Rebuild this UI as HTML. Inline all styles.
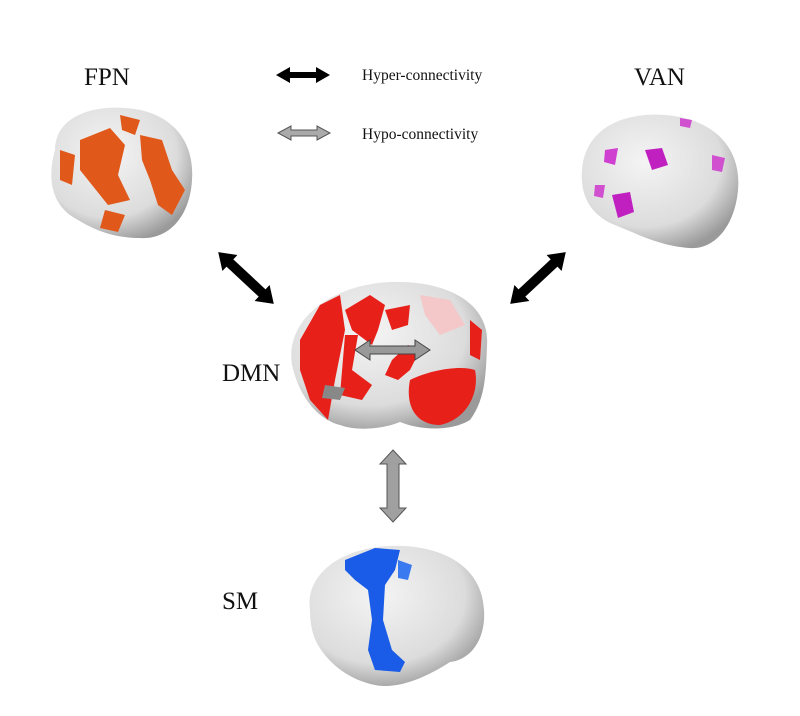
<!DOCTYPE html>
<html><head><style>
html,body{margin:0;padding:0;background:#fff;width:800px;height:716px;overflow:hidden}
</style></head><body>
<svg width="800" height="716" viewBox="0 0 800 716" xmlns="http://www.w3.org/2000/svg" font-family="Liberation Serif, serif">
<defs>
<radialGradient id="g" cx="40%" cy="35%" r="70%">
<stop offset="0" stop-color="#f4f4f4"/><stop offset="0.7" stop-color="#dcdcdc"/><stop offset="1" stop-color="#9a9a9a"/>
</radialGradient>
</defs>
<text x="84" y="85" font-size="25" fill="#111">FPN</text>
<text x="634" y="85" font-size="25" fill="#111">VAN</text>
<text x="222" y="381" font-size="25" fill="#111">DMN</text>
<text x="222" y="609" font-size="25" fill="#111">SM</text>
<text x="362" y="80" font-size="15.5" fill="#111">Hyper-connectivity</text>
<text x="362" y="139" font-size="15.5" fill="#111">Hypo-connectivity</text>

<polygon points="276,75 290,67 290,72 316,72 316,67 330,75 316,83 316,78 290,78 290,83" fill="#000"/>
<polygon points="278,133 291,126 291,130 317,130 317,126 330,133 317,140 317,136 291,136 291,140" fill="#aaa" stroke="#555" stroke-width="1"/>

<path d="M55,150 C55,118 90,105 125,108 C165,110 195,135 192,180 C190,215 170,240 140,238 C110,238 90,228 70,215 C50,200 48,175 55,150Z" fill="url(#g)"/>
<path d="M80,140 L110,128 L125,145 L118,175 L130,200 L108,205 L92,185 L80,170Z" fill="#e0581a"/>
<path d="M140,135 L162,140 L172,170 L185,190 L172,215 L158,205 L150,180 L142,160Z" fill="#e0581a"/>
<path d="M60,150 L75,155 L72,185 L60,180Z" fill="#e0581a"/>
<path d="M105,210 L125,215 L118,232 L100,228Z" fill="#e0581a"/>
<path d="M120,115 L140,120 L135,135 L122,130Z" fill="#e0581a"/>

<path d="M582,170 C585,130 620,112 665,115 C710,118 742,145 738,190 C735,225 715,250 690,248 C660,246 640,235 615,225 C590,215 580,195 582,170Z" fill="url(#g)"/>
<path d="M645,150 L662,148 L668,165 L652,170Z" fill="#c020c0"/>
<path d="M605,150 L618,148 L615,165 L604,162Z" fill="#d040d0"/>
<path d="M612,195 L630,192 L634,212 L618,218Z" fill="#c020c0"/>
<path d="M712,155 L725,158 L722,172 L712,170Z" fill="#d050d0"/>
<path d="M595,185 L605,185 L603,198 L594,196Z" fill="#d050d0"/>
<path d="M680,118 L692,120 L690,128 L680,126Z" fill="#d050d0"/>

<g transform="translate(246,278) rotate(43)">
<polygon points="-38,0 -22,-11 -22,-5 22,-5 22,-11 38,0 22,11 22,5 -22,5 -22,11" fill="#000"/>
</g>
<g transform="translate(538,278) rotate(-43)">
<polygon points="-38,0 -22,-11 -22,-5 22,-5 22,-11 38,0 22,11 22,5 -22,5 -22,11" fill="#000"/>
</g>

<path d="M292,365 C285,320 330,285 390,282 C450,280 490,305 487,345 C486,375 485,400 470,420 C450,432 420,430 400,422 C385,428 360,432 340,425 C320,420 300,400 292,365Z" fill="url(#g)"/>
<path d="M300,340 L320,305 L340,295 L345,330 L335,380 L328,420 L310,400 L300,370Z" fill="#e8201a"/>
<path d="M345,310 L370,295 L385,305 L378,330 L372,345 L352,330Z" fill="#e8201a"/>
<path d="M345,335 L358,335 L352,370 L372,385 L362,400 L340,395Z" fill="#e8201a"/>
<path d="M385,310 L410,305 L408,325 L392,330Z" fill="#e8201a"/>
<path d="M408,345 L420,350 L410,370 L398,380 L385,375 L392,360Z" fill="#e8201a"/>
<path d="M470,320 L482,330 L480,360 L470,355Z" fill="#e8201a"/>
<path d="M410,380 C430,370 460,365 475,370 C480,395 465,420 440,425 C415,425 405,405 410,380Z" fill="#e8201a"/>
<path d="M420,295 L450,300 L465,325 L440,335 L425,315Z" fill="#f4c8c8"/>
<path d="M325,385 L345,388 L340,400 L322,398Z" fill="#888"/>
<polygon points="355,350 370,340 370,346 415,346 415,340 430,350 415,360 415,354 370,354 370,360" fill="#999" stroke="#444" stroke-width="1"/>

<polygon points="393,450 406,464 399,464 399,508 406,508 393,522 380,508 387,508 387,464 380,464" fill="#a0a0a0" stroke="#555" stroke-width="1"/>

<path d="M310,610 C305,575 340,548 390,546 C440,544 482,565 484,610 C486,640 470,660 450,662 C430,675 400,690 375,685 C350,680 330,665 318,645 C312,635 310,622 310,610Z" fill="url(#g)"/>
<path d="M345,560 L375,548 L400,550 L395,570 L385,585 L383,620 L392,650 L405,662 L400,672 L375,670 L368,650 L372,620 L368,590 L355,580 L345,570Z" fill="#1a5ce8"/>
<path d="M398,560 L412,565 L408,580 L398,578Z" fill="#3a7af0"/>
</svg>
</body></html>
